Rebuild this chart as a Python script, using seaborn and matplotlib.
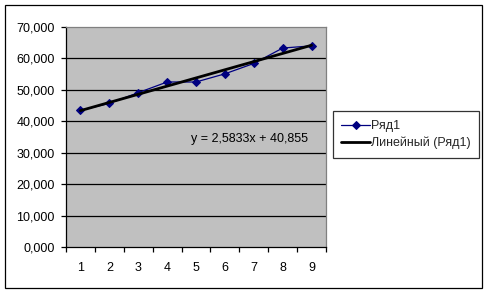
import numpy as np
import pandas as pd
import seaborn as sns
import matplotlib
matplotlib.use("Agg")
import matplotlib.pyplot as plt
from matplotlib.patches import Rectangle
from matplotlib.ticker import FixedLocator, FuncFormatter, NullFormatter

# ---- data ----
categories = [1, 2, 3, 4, 5, 6, 7, 8, 9]
values = [43.5, 45.7, 49.1, 52.5, 52.5, 55.1, 58.4, 63.3, 64.0]
series_name = "Ряд1"
trend_name = "Линейный (Ряд1)"
equation_text = "y = 2,5833x + 40,855"
y_ticks = [0, 10, 20, 30, 40, 50, 60, 70]

df = pd.DataFrame({"x": categories, "y": values})

sns.set_theme(style="white")
plt.rcParams["font.family"] = ["Liberation Sans", "DejaVu Sans"]
plt.rcParams["font.size"] = 9

W, H = 489, 294
fig = plt.figure(figsize=(W / 100, H / 100), dpi=100)
fig.patch.set_facecolor("white")

# outer chart border
fig.patches.append(Rectangle((5 / W, (H - 288) / H), 477 / W, 283 / H,
                             transform=fig.transFigure, fill=False,
                             edgecolor="black", linewidth=0.9))

ax = fig.add_axes([66 / W, (H - 247) / H, 260 / W, 220 / H])
ax.set_facecolor("#C0C0C0")

# gridlines
for v in y_ticks[1:-1]:
    ax.axhline(v, color="black", linewidth=0.9, zorder=1)

sns.lineplot(data=df, x="x", y="y", ax=ax, color="#000080", linewidth=0.9,
             marker="D", markersize=4.5, markeredgecolor="#000080",
             label=series_name, zorder=3)
sns.regplot(data=df, x="x", y="y", ax=ax, scatter=False, ci=None,
            truncate=True, color="black", label=trend_name,
            line_kws={"linewidth": 2.0, "zorder": 4})

ax.set_xlim(0.5, 9.5)
ax.set_ylim(0, 70)
ax.set_xlabel("")
ax.set_ylabel("")

# x axis: ticks at category boundaries, labels at centers
ax.xaxis.set_major_locator(FixedLocator(np.arange(0.5, 10.0, 1.0)))
ax.xaxis.set_major_formatter(NullFormatter())
ax.xaxis.set_minor_locator(FixedLocator(categories))
ax.xaxis.set_minor_formatter(FuncFormatter(lambda v, p: f"{int(round(v))}"))
ax.tick_params(axis="x", which="major", direction="out", length=3.5,
               width=0.9, color="black", bottom=True)
ax.tick_params(axis="x", which="minor", length=0, pad=11, labelsize=9,
               labelcolor="black", bottom=True)

ax.set_yticks(y_ticks)
ax.yaxis.set_major_formatter(FuncFormatter(lambda v, p: f"{v:.3f}".replace(".", ",")))
ax.tick_params(axis="y", direction="out", length=3.5, width=0.9, color="black",
               pad=4.5, labelsize=9, labelcolor="black", left=True)

for side in ["left", "bottom"]:
    ax.spines[side].set_color("black")
    ax.spines[side].set_linewidth(0.9)
for side in ["top", "right"]:
    ax.spines[side].set_color("#808080")
    ax.spines[side].set_linewidth(0.9)

ax.text(6.85, 34.3, equation_text, fontsize=9, color="black",
        ha="center", va="center", zorder=5)

leg = ax.legend(loc="upper left", bbox_to_anchor=(333 / W, 1 - 111.5 / H),
                bbox_transform=fig.transFigure, borderaxespad=0,
                frameon=True, fancybox=False, fontsize=9, handlelength=2.25,
                handletextpad=0.1, borderpad=0.68, labelspacing=0.38,
                markerscale=0.8)
leg.get_frame().set_edgecolor("black")
leg.get_frame().set_linewidth(0.9)
leg.get_frame().set_facecolor("white")

fig.savefig("out.png", dpi=100)
